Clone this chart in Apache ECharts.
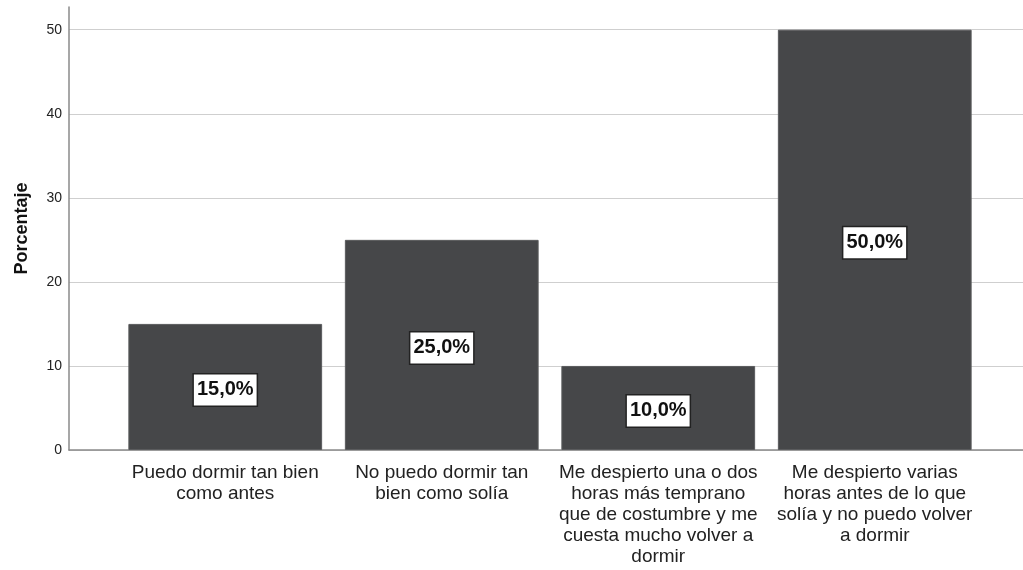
<!DOCTYPE html>
<html>
<head>
<meta charset="utf-8">
<script src="https://cdn.jsdelivr.net/npm/echarts@6/dist/echarts.min.js"></script>
<style>
  html, body { margin: 0; padding: 0; background: #fff; }
  #chart { width: 1023px; height: 570px; }
</style>
</head>
<body>
<div id="chart"></div>
<script>
// Sleep-change responses (percentage of respondents)
const categories = [
  'Puedo dormir tan bien\ncomo antes',
  'No puedo dormir tan\nbien como solía',
  'Me despierto una o dos\nhoras más temprano\nque de costumbre y me\ncuesta mucho volver a\ndormir',
  'Me despierto varias\nhoras antes de lo que\nsolía y no puedo volver\na dormir'
];
const percentages = [15.0, 25.0, 10.0, 50.0];
const yTicks = [0, 10, 20, 30, 40, 50];
const yAxisTitle = 'Porcentaje';

const yMax = 52.7;
const fontFamily = 'Liberation Sans, Arial, sans-serif';

const chart = echarts.init(document.getElementById('chart'), null, { renderer: 'canvas' });

// split line colours: visible for the labelled ticks, hidden for the top extent
const splitColors = yTicks.map(() => '#cfcfcf').concat(['rgba(0,0,0,0)']);

chart.setOption({
  animation: false,
  backgroundColor: '#ffffff',
  grid: [
    { left: 69, right: 0, top: 7, bottom: 120 },
    { left: 117, right: 40, top: 7, bottom: 120 }
  ],
  xAxis: [
    {
      gridIndex: 0, type: 'value', min: 0, max: 1,
      axisLine: { show: true, lineStyle: { color: '#8a8a8a', width: 1.5 } },
      axisTick: { show: false }, axisLabel: { show: false }, splitLine: { show: false }
    },
    {
      gridIndex: 1, type: 'category', data: categories,
      axisLine: { show: false }, axisTick: { show: false },
      axisLabel: {
        interval: 0, margin: 12, color: '#222',
        fontFamily: fontFamily, fontSize: 19, lineHeight: 21, align: 'center'
      }
    }
  ],
  yAxis: [
    {
      gridIndex: 0, type: 'value', min: 0, max: yMax, interval: 10,
      name: yAxisTitle, nameLocation: 'middle', nameGap: 38, nameRotate: 90,
      nameTextStyle: { fontFamily: fontFamily, fontSize: 18, fontWeight: 'bold', color: '#111' },
      axisLine: { show: true, lineStyle: { color: '#8a8a8a', width: 1.5 } },
      axisTick: { show: false },
      axisLabel: {
        margin: 7, color: '#222', fontFamily: fontFamily, fontSize: 14,
        formatter: v => (yTicks.indexOf(v) >= 0 ? String(v) : '')
      },
      splitLine: { show: true, lineStyle: { color: splitColors, width: 1.2 } }
    },
    {
      gridIndex: 1, type: 'value', min: 0, max: yMax,
      axisLine: { show: false }, axisTick: { show: false },
      axisLabel: { show: false }, splitLine: { show: false }
    }
  ],
  series: [
    {
      type: 'bar',
      xAxisIndex: 1, yAxisIndex: 1,
      data: percentages,
      barCategoryGap: '10.5%',
      itemStyle: { color: '#464749', borderColor: '#5a5b5d', borderWidth: 1 },
      label: {
        show: true, position: 'inside', offset: [0, 3],
        formatter: p => p.value.toFixed(1).replace('.', ',') + '%',
        fontFamily: fontFamily, fontSize: 20, fontWeight: 'bold', color: '#111',
        backgroundColor: '#ffffff', borderColor: '#222', borderWidth: 1.5,
        padding: [3, 3, 2, 3], lineHeight: 26
      }
    }
  ]
});
</script>
</body>
</html>
